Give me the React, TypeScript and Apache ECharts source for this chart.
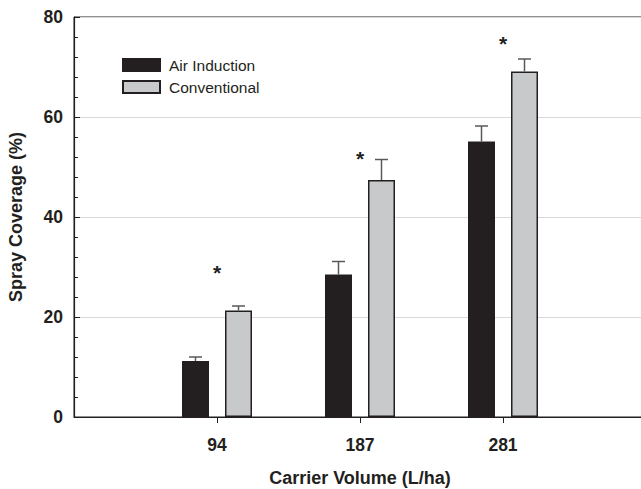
import React, { useEffect, useRef } from "react";
import * as echarts from "echarts";

const categories = ["", "94", "187", "281", ""];
const airInduction = ["-", 11.2, 28.5, 55.1, "-"];
const airInductionErr = [0, 0.8, 2.6, 3.1, 0];
const conventional = ["-", 21.3, 47.4, 69.1, "-"];
const conventionalErr = [0, 0.9, 4.1, 2.5, 0];
const asteriskY = [null, 29.6, 52.4, 75.3, null];
const yTicks = [0, 20, 40, 60, 80];

const FONT = "'Liberation Sans', Arial, Helvetica, sans-serif";
const INK = "#231f20";
const BAR_W = 27;
const BAR_GAP = 16;
const HALF = (BAR_W + BAR_GAP) / 2;

function errorSeries(name: string, vals: any[], errs: number[], dir: number) {
  const data = vals
    .map((v, i) => (typeof v === "number" ? [i, v, v + errs[i]] : null))
    .filter((d) => d !== null);
  return {
    type: "custom",
    name: name + " err",
    z: 5,
    silent: true,
    data,
    renderItem: (params: any, api: any) => {
      const i = api.value(0);
      const lo = api.coord([i, api.value(1)]);
      const hi = api.coord([i, api.value(2)]);
      const x = lo[0] + dir * HALF;
      const style = { stroke: "#58595b", lineWidth: 1.5 };
      return {
        type: "group",
        children: [
          { type: "line", shape: { x1: x, y1: lo[1], x2: x, y2: hi[1] }, style },
          { type: "line", shape: { x1: x - 6.5, y1: hi[1], x2: x + 6.5, y2: hi[1] }, style },
        ],
      };
    },
  };
}

export default function App() {
  const ref = useRef<HTMLDivElement>(null);
  useEffect(() => {
    const chart = echarts.init(ref.current!, null, { renderer: "svg" });
    const starData = asteriskY
      .map((v, i) => (v === null ? null : [i, v]))
      .filter((d) => d !== null);
    chart.setOption({
      animation: false,
      textStyle: { fontFamily: FONT },
      grid: {
        left: 74,
        top: 17,
        width: 572,
        height: 400,
        outerBoundsMode: "none",
        containLabel: false,
        show: true,
        borderColor: INK,
        borderWidth: 1,
        backgroundColor: "transparent",
      },
      legend: {
        orient: "vertical",
        left: 122,
        top: 57,
        padding: 0,
        itemWidth: 37,
        itemHeight: 12,
        itemGap: 6,
        icon: "rect",
        data: ["Air Induction", "Conventional"],
        textStyle: { fontFamily: FONT, fontSize: 15.5, color: INK, lineHeight: 14, padding: [0, 0, 0, 4] },
      },
      xAxis: {
        type: "category",
        data: categories,
        boundaryGap: false,
        axisLine: { lineStyle: { color: INK, width: 1.2 } },
        axisTick: { show: true, length: 6, interval: (i: number) => i >= 1 && i <= 3, lineStyle: { color: INK } },
        axisLabel: { fontFamily: FONT, fontSize: 17.5, fontWeight: "bold", color: INK, margin: 19, interval: 0 },
        name: "Carrier Volume (L/ha)",
        nameLocation: "middle",
        nameGap: 52,
        nameTextStyle: { fontFamily: FONT, fontSize: 18, fontWeight: "bold", color: INK },
        splitLine: { show: false },
      },
      yAxis: {
        type: "value",
        min: yTicks[0],
        max: yTicks[yTicks.length - 1],
        interval: 20,
        axisLine: { show: true, lineStyle: { color: INK, width: 1.2 } },
        axisTick: { show: true, inside: true, length: 6, lineStyle: { color: INK } },
        minorTick: { show: true, splitNumber: 5, length: 4, lineStyle: { color: INK } },
        axisLabel: { fontFamily: FONT, fontSize: 17.5, fontWeight: "bold", color: INK, margin: 11 },
        splitLine: { show: true, lineStyle: { color: "#d9d9d9", width: 1.2 } },
        name: "Spray Coverage (%)",
        nameLocation: "middle",
        nameGap: 49,
        nameTextStyle: { fontFamily: FONT, fontSize: 18, fontWeight: "bold", color: INK },
      },
      series: [
        {
          type: "bar",
          name: "Air Induction",
          data: airInduction,
          barWidth: BAR_W,
          barGap: (BAR_GAP / BAR_W) * 100 + "%",
          itemStyle: { color: INK, borderColor: INK, borderWidth: 1.5 },
          z: 3,
        },
        {
          type: "bar",
          name: "Conventional",
          data: conventional,
          barWidth: BAR_W,
          itemStyle: { color: "#c8c9cb", borderColor: INK, borderWidth: 1.5 },
          z: 3,
        },
        errorSeries("Air Induction", airInduction, airInductionErr, -1),
        errorSeries("Conventional", conventional, conventionalErr, 1),
        {
          type: "custom",
          name: "significance",
          silent: true,
          z: 6,
          data: starData,
          renderItem: (params: any, api: any) => {
            const p = api.coord([api.value(0), api.value(1)]);
            return {
              type: "text",
              x: p[0],
              y: p[1] + 3,
              style: { text: "*", fontFamily: FONT, fontSize: 21, fontWeight: "bold", fill: INK, align: "center", verticalAlign: "middle" },
            };
          },
        },
      ],
    });
    return () => chart.dispose();
  }, []);
  return <div ref={ref} style={{ position: "absolute", left: 0, top: 0, width: 641, height: 489, background: "#fff" }} />;
}
